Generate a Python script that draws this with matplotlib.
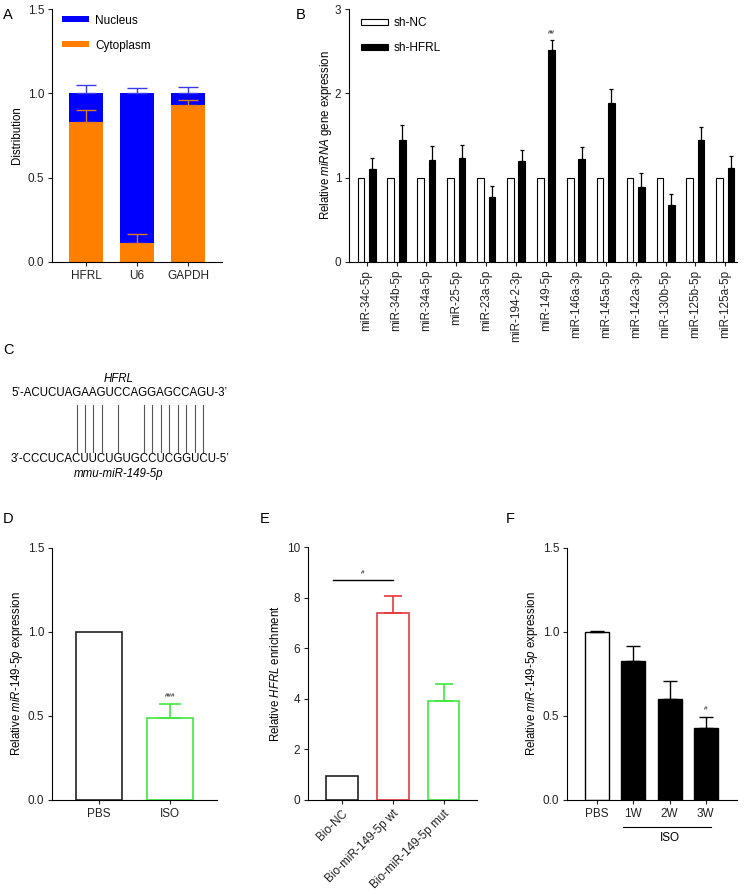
import matplotlib
matplotlib.use('Agg')
import matplotlib.pyplot as plt
import matplotlib.transforms as mtransforms
import numpy as np

plt.rcParams['font.family'] = ['Liberation Sans', 'DejaVu Sans']
plt.rcParams['mathtext.fontset'] = 'custom'
plt.rcParams['mathtext.rm'] = 'Liberation Sans'
plt.rcParams['mathtext.it'] = 'Liberation Sans:italic'
plt.rcParams['mathtext.bf'] = 'Liberation Sans:bold'
plt.rcParams['axes.linewidth'] = 0.8
plt.rcParams['xtick.major.width'] = 0.8
plt.rcParams['ytick.major.width'] = 0.8
plt.rcParams['xtick.major.size'] = 3
plt.rcParams['ytick.major.size'] = 3
plt.rcParams['xtick.labelsize'] = 8.5
plt.rcParams['ytick.labelsize'] = 8.5
plt.rcParams['axes.labelsize'] = 8.3

# ---------------- data ----------------
a_cats = ['HFRL', 'U6', 'GAPDH']
a_cyto = [0.83, 0.115, 0.93]
a_cyto_err = [0.07, 0.05, 0.03]
a_nuc = [0.17, 0.885, 0.07]
a_nuc_err = [0.05, 0.03, 0.04]

b_cats = ['miR-34c-5p', 'miR-34b-5p', 'miR-34a-5p', 'miR-25-5p', 'miR-23a-5p',
          'miR-194-2-3p', 'miR-149-5p', 'miR-146a-3p', 'miR-145a-5p',
          'miR-142a-3p', 'miR-130b-5p', 'miR-125b-5p', 'miR-125a-5p']
b_nc = [1.0] * 13
b_hfrl = [1.10, 1.45, 1.21, 1.23, 0.77, 1.20, 2.51, 1.22, 1.89, 0.89, 0.68, 1.45, 1.12]
b_hfrl_err = [0.13, 0.17, 0.16, 0.16, 0.135, 0.13, 0.12, 0.14, 0.16, 0.16, 0.13, 0.15, 0.14]

c_top = 'ACUCUAGAAGUCCAGGAGCCAGU'
c_bottom = 'CCCUCACUUCUGUGCCUCGGUCU'
c_pairs = [7, 8, 9, 10, 12, 15, 16, 17, 18, 19, 20, 21, 22]

d_cats = ['PBS', 'ISO']
d_vals = [1.0, 0.487]
d_err = [0.0, 0.084]

e_cats = ['Bio-NC', 'Bio-miR-149-5p wt', 'Bio-miR-149-5p mut']
e_vals = [0.95, 7.39, 3.92]
e_err = [0.0, 0.68, 0.65]

f_cats = ['PBS', '1W', '2W', '3W']
f_vals = [1.0, 0.828, 0.604, 0.426]
f_err = [0.008, 0.091, 0.105, 0.071]

# ---------------- figure ----------------
W, H = 749, 891
fig = plt.figure(figsize=(W / 100, H / 100), dpi=100)


def px_axes(x0, y0, x1, y1):
    return fig.add_axes([x0 / W, 1 - y1 / H, (x1 - x0) / W, (y1 - y0) / H])


def style(ax):
    ax.spines['top'].set_visible(False)
    ax.spines['right'].set_visible(False)
    ax.tick_params(direction='out', pad=2.5, colors='#222222')


def letter(x, y, s):
    fig.text(x / W, 1 - y / H, s, fontsize=10.5, ha='left', va='center')


BLUE = '#0000ff'
ORANGE = '#ff8000'
RED = '#e8383d'
GREEN = '#3ee83e'

LEG = dict(frameon=False, fontsize=8.5, handlelength=2.3, handleheight=0.4,
           labelspacing=1.1, handletextpad=0.5, borderaxespad=0, borderpad=0)

# ---------------- A ----------------
ax = px_axes(52, 9, 222, 262)
style(ax)
xa = np.arange(len(a_cats))
wa = 0.667
ax.bar(xa, a_cyto, wa, color=ORANGE, label='Cytoplasm', zorder=2)
ax.bar(xa, a_nuc, wa, bottom=a_cyto, color=BLUE, label='Nucleus', zorder=2)
tops = np.array(a_cyto) + np.array(a_nuc)
ax.errorbar(xa, tops, yerr=[np.zeros(3), a_nuc_err], fmt='none', ecolor='#3a3ae8',
            elinewidth=1.0, capsize=7.5, capthick=1.0, zorder=3)
ax.errorbar(xa, a_cyto, yerr=[np.zeros(3), a_cyto_err], fmt='none', ecolor='#e07a20',
            elinewidth=1.0, capsize=7.5, capthick=1.0, zorder=4)
ax.set_xlim(-0.667, 2.667)
ax.set_ylim(0, 1.5)
ax.set_yticks([0, 0.5, 1.0, 1.5])
ax.set_yticklabels(['0.0', '0.5', '1.0', '1.5'])
ax.set_xticks(xa)
ax.set_xticklabels(a_cats)
ax.set_ylabel('Distribution', labelpad=3.5)
h, l = ax.get_legend_handles_labels()
ax.legend(h[::-1], l[::-1], loc='upper left', bbox_to_anchor=(0.06, 0.978), **LEG)
letter(3, 15, 'A')

# ---------------- B ----------------
ax = px_axes(349, 9, 737, 262)
style(ax)
xb = np.arange(len(b_cats))
wb = 0.225
ax.bar(xb - 0.19, b_nc, wb, color='white', edgecolor='black', linewidth=0.8,
       label='sh-NC', zorder=2)
ax.bar(xb + 0.19, b_hfrl, wb, color='black', edgecolor='black', linewidth=0.8,
       label='sh-HFRL', zorder=2)
ax.errorbar(xb + 0.19, b_hfrl, yerr=[np.zeros(len(b_hfrl)), b_hfrl_err], fmt='none',
            ecolor='black', elinewidth=0.9, capsize=1.5, capthick=0.9, zorder=3)
ax.text(6 + 0.19, 2.72, '##', ha='center', va='center', fontsize=4.5)
ax.set_xlim(-0.59, 12.39)
ax.set_ylim(0, 3)
ax.set_yticks([0, 1, 2, 3])
ax.set_xticks(xb)
ax.set_xticklabels(b_cats, rotation=90)
ax.set_ylabel('Relative $\\it{miRNA}$ gene expression', labelpad=0.5)
ax.legend(loc='upper left', bbox_to_anchor=(0.03, 0.968), **LEG)
letter(296, 15, 'B')

# ---------------- C ----------------
axc = px_axes(0, 365, 260, 485)
axc.axis('off')
axc.set_xlim(0, 260)
axc.set_ylim(485, 365)
seq_fs = 8.3
x0 = 11
top_str = '5\u2019-' + c_top + '-3\u2019'
bot_str = '3\u2019-' + c_bottom + '-5\u2019'
t_top = axc.text(x0, 393, top_str, ha='left', va='center', fontsize=seq_fs)
t_bot = axc.text(x0, 459, bot_str, ha='left', va='center', fontsize=seq_fs)
renderer = fig.canvas.get_renderer()
fp = t_top.get_fontproperties()


def width_px(s):
    if not s:
        return 0.0
    w, _, _ = renderer.get_text_width_height_descent(s, fp, ismath=False)
    return w


def base_center(strand, idx):
    pre = '5\u2019-' if strand is c_top else '3\u2019-'
    a = width_px(pre + strand[:idx - 1])
    b = width_px(pre + strand[:idx])
    return x0 + (a + b) / 2


for p in c_pairs:
    xc = (base_center(c_top, p) + base_center(c_bottom, p)) / 2
    axc.plot([xc, xc], [405, 452], color='#555555', lw=0.8)
mid = x0 + width_px(top_str) / 2
axc.text(mid, 379, 'HFRL', ha='center', va='center', fontsize=seq_fs, style='italic')
axc.text(mid, 474, 'mmu-miR-149-5p', ha='center', va='center', fontsize=seq_fs, style='italic')
letter(3, 350, 'C')

# ---------------- D ----------------
ax = px_axes(52, 548, 217, 800)
style(ax)
xd = np.arange(len(d_cats))
ax.bar(xd, d_vals, 0.65, color='white', edgecolor=['#222222', GREEN], linewidth=1.2, zorder=2)
ax.errorbar(xd[1:], d_vals[1:], yerr=[[0], d_err[1:]], fmt='none', ecolor=GREEN,
            elinewidth=1.2, capsize=8, capthick=1.2, zorder=3)
ax.text(1, 0.62, '###', ha='center', va='center', fontsize=4.5)
ax.set_xlim(-0.66, 1.66)
ax.set_ylim(0, 1.5)
ax.set_yticks([0, 0.5, 1.0, 1.5])
ax.set_yticklabels(['0.0', '0.5', '1.0', '1.5'])
ax.set_xticks(xd)
ax.set_xticklabels(d_cats)
ax.set_ylabel('Relative $\\it{miR}$-$\\it{149}$-$\\it{5p}$ expression', labelpad=2)
letter(3, 519, 'D')

# ---------------- E ----------------
ax = px_axes(308, 547, 477, 800)
style(ax)
xe = np.arange(len(e_cats))
ax.bar(xe, e_vals, 0.63, color='white', edgecolor=['#222222', RED, GREEN], linewidth=1.2, zorder=2)
ax.errorbar(xe[1:2], e_vals[1:2], yerr=[[0], e_err[1:2]], fmt='none', ecolor=RED,
            elinewidth=1.2, capsize=6.5, capthick=1.2, zorder=3)
ax.errorbar(xe[2:], e_vals[2:], yerr=[[0], e_err[2:]], fmt='none', ecolor=GREEN,
            elinewidth=1.2, capsize=6.5, capthick=1.2, zorder=3)
ax.plot([-0.18, 1.0], [8.71, 8.71], color='black', lw=1.0)
ax.text(0.41, 9.0, '#', ha='center', va='center', fontsize=4.5)
ax.set_xlim(-0.67, 2.66)
ax.set_ylim(0, 10)
ax.set_yticks([0, 2, 4, 6, 8, 10])
ax.set_xticks(xe)
ax.set_xticklabels(e_cats, rotation=45, ha='right', rotation_mode='anchor')
ax.set_ylabel('Relative $\\it{HFRL}$ enrichment', labelpad=4)
letter(260, 519, 'E')

# ---------------- F ----------------
ax = px_axes(567, 548, 737, 800)
style(ax)
xf = np.arange(len(f_cats))
ax.bar(xf, f_vals, 0.66, color=['white', 'black', 'black', 'black'], edgecolor='black',
       linewidth=1.0, zorder=2)
ax.errorbar(xf, f_vals, yerr=[np.zeros(len(f_vals)), f_err], fmt='none', ecolor='black',
            elinewidth=1.0, capsize=5, capthick=1.0, zorder=3)
ax.text(3, 0.545, '#', ha='center', va='center', fontsize=4.5)
ax.set_xlim(-0.83, 3.86)
ax.set_ylim(0, 1.5)
ax.set_yticks([0, 0.5, 1.0, 1.5])
ax.set_yticklabels(['0.0', '0.5', '1.0', '1.5'])
ax.set_xticks(xf)
ax.set_xticklabels(f_cats)
ax.set_ylabel('Relative $\\it{miR}$-$\\it{149}$-$\\it{5p}$ expression', labelpad=2)
trans = mtransforms.blended_transform_factory(ax.transData, ax.transAxes)
ax.plot([0.72, 3.14], [-0.107, -0.107], color='black', lw=0.8, transform=trans, clip_on=False)
ax.text(2, -0.15, 'ISO', ha='center', va='center', fontsize=8.5, transform=trans)
letter(506, 519, 'F')

fig.savefig('out.png', dpi=100)
